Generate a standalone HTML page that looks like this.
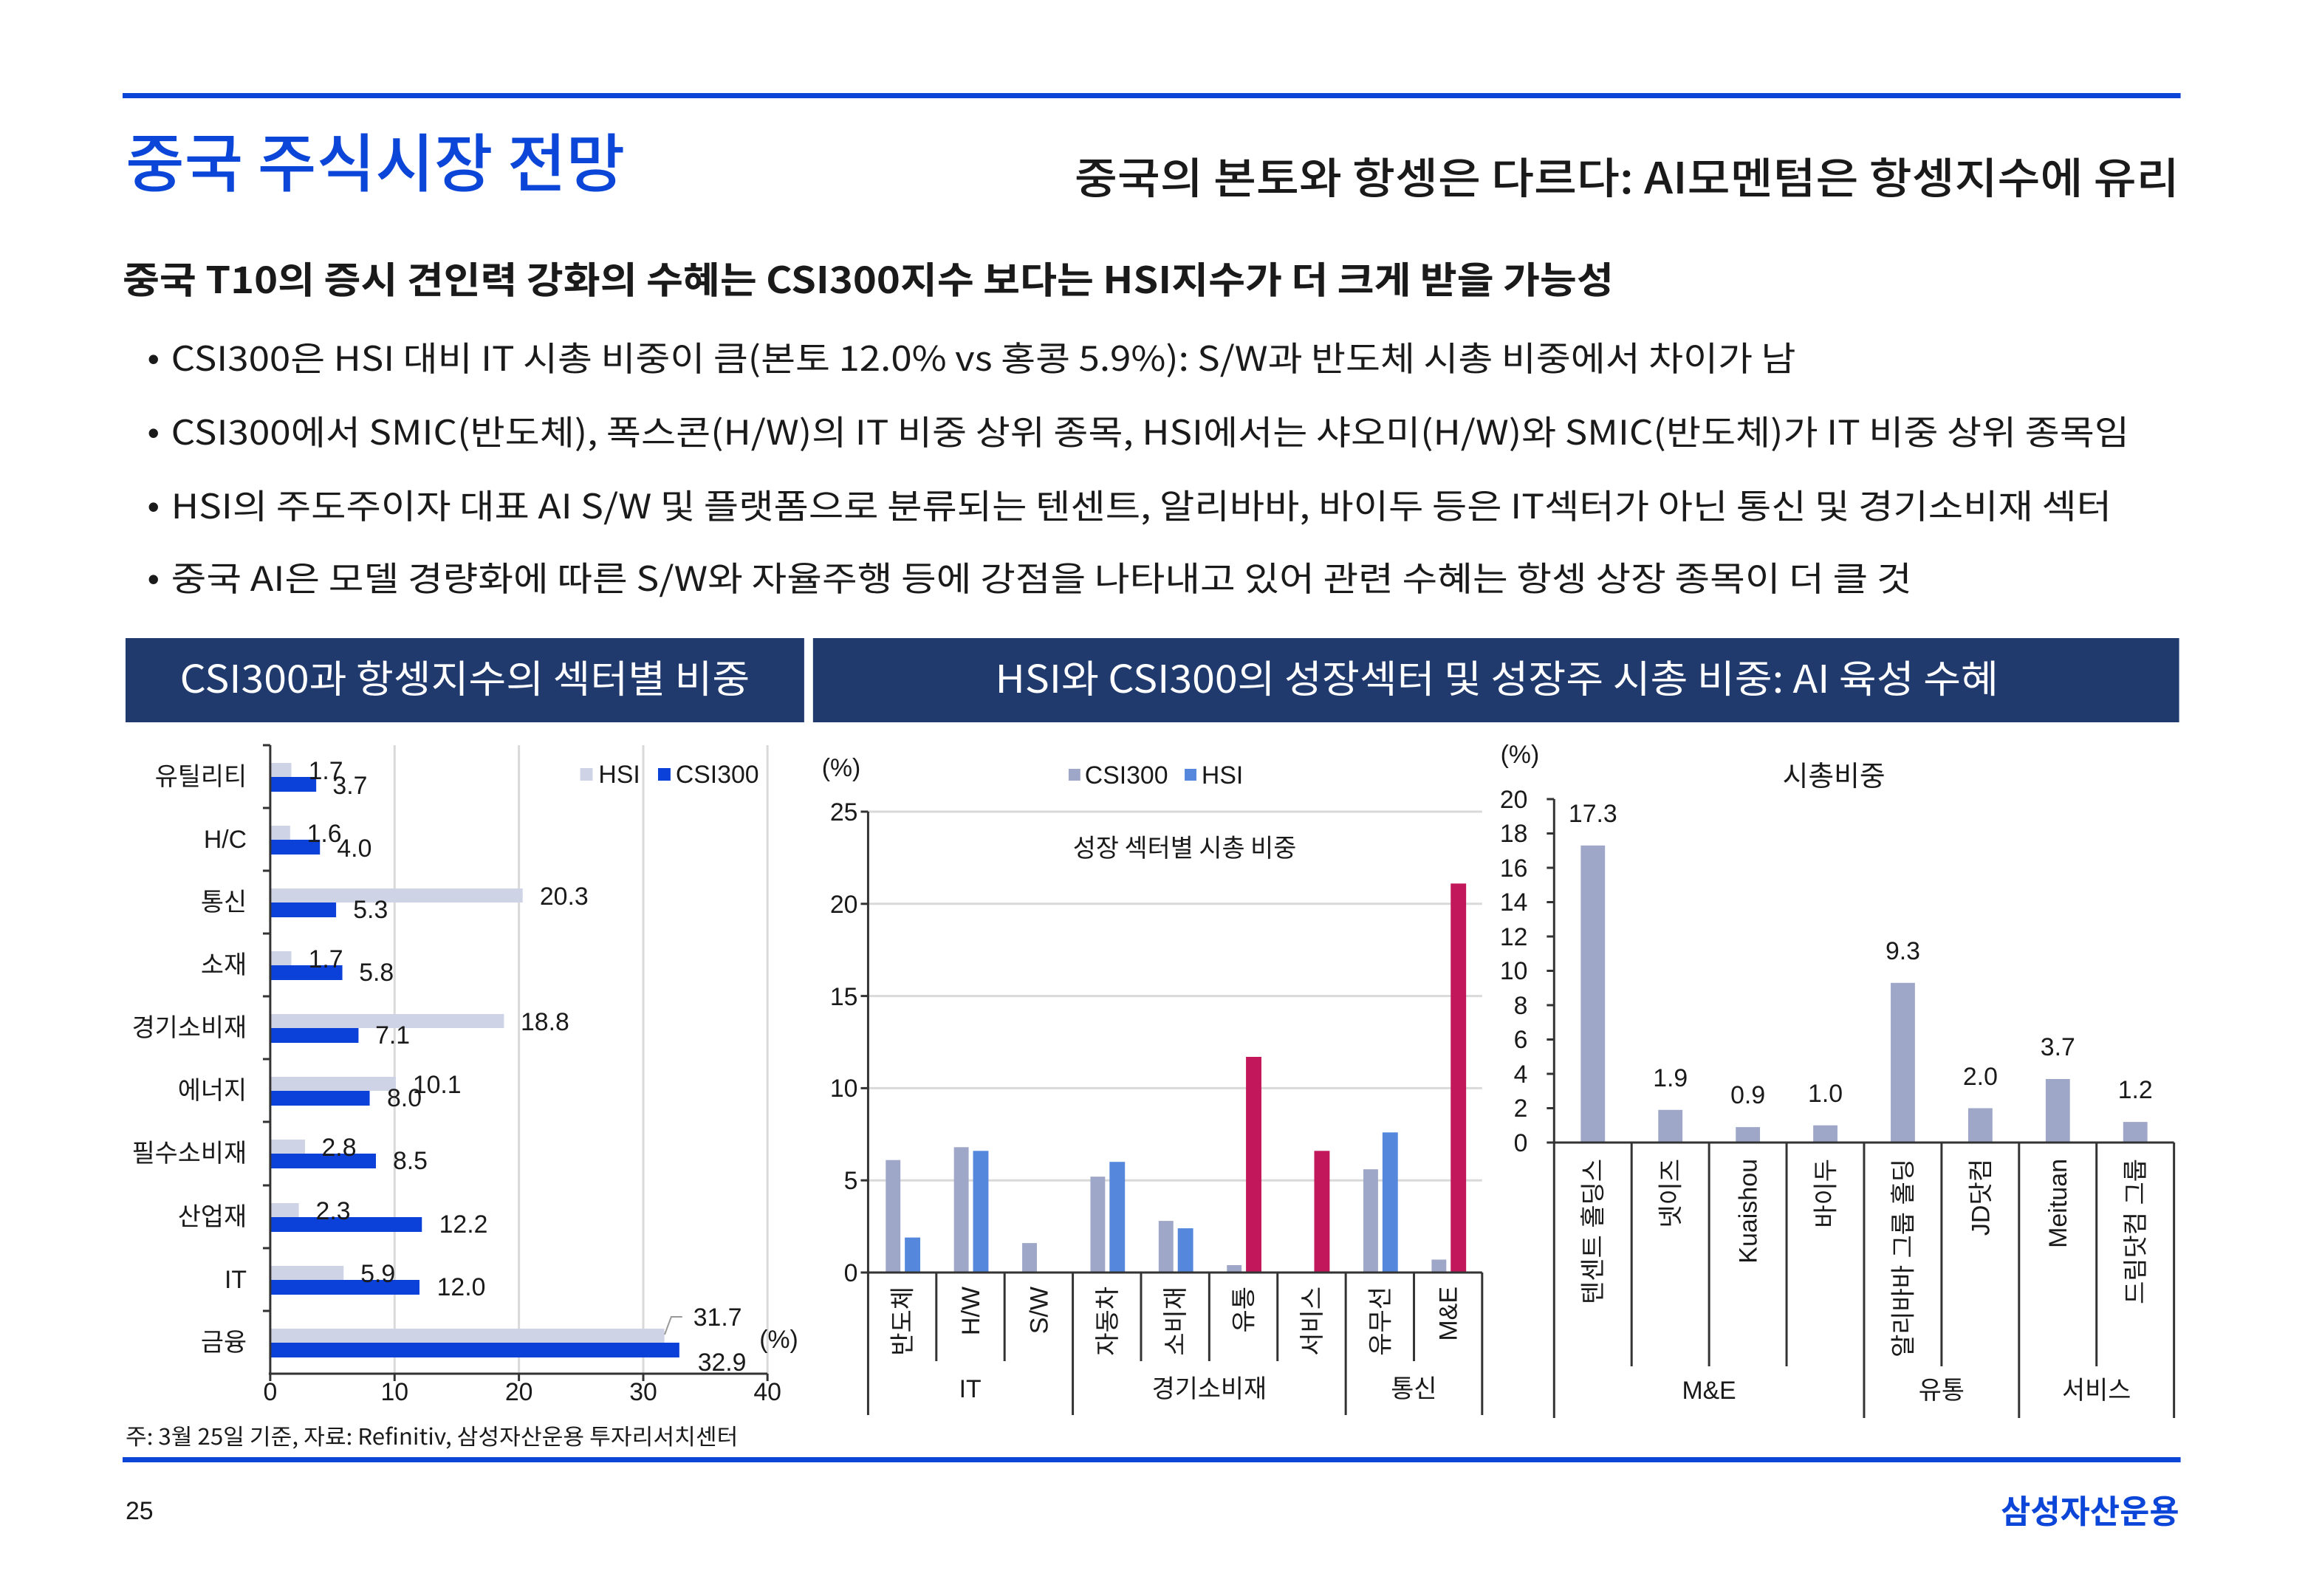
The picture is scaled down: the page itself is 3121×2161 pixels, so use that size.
<!DOCTYPE html>
<html><head><meta charset="utf-8"><style>
html,body{margin:0;padding:0;background:#fff}
svg{display:block}
text{font-family:"Liberation Sans","Noto Sans CJK KR",sans-serif;fill:#1a1a1a}
.k{font-family:"Noto Sans CJK KR","Liberation Sans",sans-serif}
</style></head><body>
<svg width="3121" height="2161" viewBox="0 0 3121 2161" xmlns="http://www.w3.org/2000/svg">
<rect width="3121" height="2161" fill="#fff"/>
<g transform="translate(166,0) scale(0.9945,1) translate(-166,0)">
<rect x="166" y="126" width="2802" height="7" fill="#0b46d8"/>
<text class="k" x="170" y="252" font-size="86" font-weight="500" style="fill:#0b46d8" textLength="680" lengthAdjust="spacingAndGlyphs">중국 주식시장 전망</text>
<text class="k" x="2966" y="262" font-size="58" font-weight="500" text-anchor="end" textLength="1504" lengthAdjust="spacingAndGlyphs">중국의 본토와 항셍은 다르다: AI모멘텀은 항셍지수에 유리</text>
<text class="k" x="166" y="397" font-size="50" font-weight="700" textLength="2030" lengthAdjust="spacingAndGlyphs">중국 T10의 증시 견인력 강화의 수혜는 CSI300지수 보다는 HSI지수가 더 크게 받을 가능성</text>
<g class="k" font-size="46">
<text x="200" y="502">•</text><text class="k" x="232" y="502" textLength="2212" lengthAdjust="spacingAndGlyphs">CSI300은 HSI 대비 IT 시총 비중이 큼(본토 12.0% vs 홍콩 5.9%): S/W과 반도체 시총 비중에서 차이가 남</text>
<text x="200" y="602">•</text><text class="k" x="232" y="602" textLength="2666" lengthAdjust="spacingAndGlyphs">CSI300에서 SMIC(반도체), 폭스콘(H/W)의 IT 비중 상위 종목, HSI에서는 샤오미(H/W)와 SMIC(반도체)가 IT 비중 상위 종목임</text>
<text x="200" y="702">•</text><text class="k" x="232" y="702" textLength="2642" lengthAdjust="spacingAndGlyphs">HSI의 주도주이자 대표 AI S/W 및 플랫폼으로 분류되는 텐센트, 알리바바, 바이두 등은 IT섹터가 아닌 통신 및 경기소비재 섹터</text>
<text x="200" y="800">•</text><text class="k" x="232" y="800" textLength="2370" lengthAdjust="spacingAndGlyphs">중국 AI은 모델 경량화에 따른 S/W와 자율주행 등에 강점을 나타내고 있어 관련 수혜는 항셍 상장 종목이 더 클 것</text>
</g>
<rect x="170" y="864" width="924" height="114" fill="#213a6e"/>
<rect x="1106" y="864" width="1860" height="114" fill="#213a6e"/>
<text class="k" x="244" y="938" font-size="52" style="fill:#fff" textLength="776" lengthAdjust="spacingAndGlyphs">CSI300과 항셍지수의 섹터별 비중</text>
<text class="k" x="1354" y="938" font-size="52" style="fill:#fff" textLength="1366" lengthAdjust="spacingAndGlyphs">HSI와 CSI300의 성장섹터 및 성장주 시총 비중: AI 육성 수혜</text>

<!-- LEFT CHART -->
<g stroke="#d9d9d9" stroke-width="3">
<line x1="536.3" y1="1009" x2="536.3" y2="1860"/><line x1="705.6" y1="1009" x2="705.6" y2="1860"/>
<line x1="874.9" y1="1009" x2="874.9" y2="1860"/><line x1="1044" y1="1009" x2="1044" y2="1860"/>
</g>
<g fill="#cfd3e6">
<rect x="367" y="1033" width="28.8" height="19"/><rect x="367" y="1118" width="27.1" height="19"/>
<rect x="367" y="1203" width="343.7" height="19"/><rect x="367" y="1288" width="28.8" height="19"/>
<rect x="367" y="1373" width="318.3" height="19"/><rect x="367" y="1458" width="171" height="19"/>
<rect x="367" y="1543" width="47.4" height="19"/><rect x="367" y="1629" width="38.9" height="19"/>
<rect x="367" y="1714" width="99.9" height="19"/><rect x="367" y="1799" width="536.7" height="19"/>
</g>
<g fill="#0b40d9">
<rect x="367" y="1052" width="62.6" height="20"/><rect x="367" y="1137" width="67.7" height="20"/>
<rect x="367" y="1222" width="89.7" height="20"/><rect x="367" y="1307" width="98.2" height="20"/>
<rect x="367" y="1392" width="120.2" height="20"/><rect x="367" y="1477" width="135.4" height="20"/>
<rect x="367" y="1562" width="143.9" height="20"/><rect x="367" y="1648" width="206.5" height="20"/>
<rect x="367" y="1733" width="203.2" height="20"/><rect x="367" y="1818" width="557" height="20"/>
</g>
<g stroke="#333" stroke-width="3">
<line x1="367" y1="1009" x2="367" y2="1862"/><line x1="365" y1="1860" x2="1044" y2="1860"/>
<line x1="357" y1="1009" x2="367" y2="1009"/><line x1="357" y1="1094" x2="367" y2="1094"/><line x1="357" y1="1179" x2="367" y2="1179"/>
<line x1="357" y1="1264" x2="367" y2="1264"/><line x1="357" y1="1349" x2="367" y2="1349"/><line x1="357" y1="1434" x2="367" y2="1434"/>
<line x1="357" y1="1519" x2="367" y2="1519"/><line x1="357" y1="1605" x2="367" y2="1605"/><line x1="357" y1="1690" x2="367" y2="1690"/>
<line x1="357" y1="1775" x2="367" y2="1775"/>
<line x1="367" y1="1860" x2="367" y2="1870"/><line x1="536.3" y1="1860" x2="536.3" y2="1870"/><line x1="705.6" y1="1860" x2="705.6" y2="1870"/>
<line x1="874.9" y1="1860" x2="874.9" y2="1870"/><line x1="1044" y1="1860" x2="1044" y2="1870"/>
</g>
<g class="k" font-size="34" text-anchor="end">
<text x="335" y="1063">유틸리티</text><text x="335" y="1148">H/C</text><text x="335" y="1233">통신</text>
<text x="335" y="1318">소재</text><text x="335" y="1403">경기소비재</text><text x="335" y="1488">에너지</text>
<text x="335" y="1573">필수소비재</text><text x="335" y="1659">산업재</text><text x="335" y="1744">IT</text><text x="335" y="1829">금융</text>
</g>
<g font-size="34">
<text x="419" y="1055">1.7</text><text x="452" y="1075">3.7</text>
<text x="417" y="1140">1.6</text><text x="458" y="1160">4.0</text>
<text x="734" y="1225">20.3</text><text x="480" y="1243">5.3</text>
<text x="419" y="1310">1.7</text><text x="488" y="1328">5.8</text>
<text x="708" y="1395">18.8</text><text x="510" y="1413">7.1</text>
<text x="561" y="1480">10.1</text><text x="526" y="1498">8.0</text>
<text x="437" y="1565">2.8</text><text x="534" y="1583">8.5</text>
<text x="429" y="1651">2.3</text><text x="597" y="1669">12.2</text>
<text x="490" y="1736">5.9</text><text x="594" y="1754">12.0</text>
<text x="943" y="1795">31.7</text><text x="949" y="1856">32.9</text><text x="1033" y="1825">(%)</text>
</g>
<polyline points="904,1807 913,1783 928,1783" fill="none" stroke="#999" stroke-width="2"/>
<g font-size="34" text-anchor="middle">
<text x="367" y="1896">0</text><text x="536.3" y="1896">10</text><text x="705.6" y="1896">20</text><text x="874.9" y="1896">30</text><text x="1044" y="1896">40</text>
</g>
<rect x="789" y="1040" width="17" height="17" fill="#cfd3e6"/><text x="814" y="1060" font-size="34">HSI</text>
<rect x="895" y="1040" width="17" height="17" fill="#0b40d9"/><text x="919" y="1060" font-size="34">CSI300</text>

<!-- MIDDLE CHART -->
<g stroke="#d9d9d9" stroke-width="3">
<line x1="1181" y1="1099" x2="2017" y2="1099"/><line x1="1181" y1="1223.8" x2="2017" y2="1223.8"/>
<line x1="1181" y1="1348.6" x2="2017" y2="1348.6"/><line x1="1181" y1="1473.4" x2="2017" y2="1473.4"/>
<line x1="1181" y1="1598.2" x2="2017" y2="1598.2"/>
</g>
<g fill="#9ea7c8">
<rect x="1205" y="1570.7" width="20" height="152.3"/><rect x="1297.9" y="1553.3" width="20" height="169.7"/>
<rect x="1390.8" y="1683.1" width="20" height="39.9"/><rect x="1483.7" y="1593.2" width="20" height="129.8"/>
<rect x="1576.6" y="1653.1" width="20" height="69.9"/><rect x="1669.5" y="1713" width="20" height="10"/>
<rect x="1855.3" y="1583.2" width="20" height="139.8"/><rect x="1948.2" y="1705.5" width="20" height="17.5"/>
</g>
<g fill="#5588dd">
<rect x="1231" y="1675.6" width="21" height="47.4"/><rect x="1323.9" y="1558.3" width="21" height="164.7"/>
<rect x="1509.7" y="1573.2" width="21" height="149.8"/><rect x="1602.6" y="1663.1" width="21" height="59.9"/>
<rect x="1881.3" y="1533.3" width="21" height="189.7"/>
</g>
<g fill="#c2185b">
<rect x="1695.5" y="1431" width="21" height="292"/><rect x="1788.4" y="1558.3" width="21" height="164.7"/>
<rect x="1974.2" y="1196.3" width="21" height="526.7"/>
</g>
<g stroke="#333" stroke-width="3">
<line x1="1181" y1="1099" x2="1181" y2="1916"/><line x1="1171" y1="1723" x2="2017" y2="1723"/>
<line x1="1171" y1="1099" x2="1181" y2="1099"/><line x1="1171" y1="1223.8" x2="1181" y2="1223.8"/><line x1="1171" y1="1348.6" x2="1181" y2="1348.6"/>
<line x1="1171" y1="1473.4" x2="1181" y2="1473.4"/><line x1="1171" y1="1598.2" x2="1181" y2="1598.2"/>
<line x1="1273.9" y1="1723" x2="1273.9" y2="1843"/><line x1="1366.8" y1="1723" x2="1366.8" y2="1843"/>
<line x1="1459.7" y1="1723" x2="1459.7" y2="1916"/><line x1="1552.6" y1="1723" x2="1552.6" y2="1843"/>
<line x1="1645.5" y1="1723" x2="1645.5" y2="1843"/><line x1="1738.4" y1="1723" x2="1738.4" y2="1843"/>
<line x1="1831.3" y1="1723" x2="1831.3" y2="1916"/><line x1="1924.2" y1="1723" x2="1924.2" y2="1843"/>
<line x1="2017" y1="1723" x2="2017" y2="1916"/>
</g>
<g font-size="34" text-anchor="end">
<text x="1167" y="1111">25</text><text x="1167" y="1236">20</text><text x="1167" y="1361">15</text>
<text x="1167" y="1485">10</text><text x="1167" y="1610">5</text><text x="1167" y="1735">0</text>
</g>
<text x="1118" y="1051" font-size="34">(%)</text>
<rect x="1454" y="1041" width="16" height="16" fill="#9ea7c8"/><text x="1476" y="1061" font-size="34">CSI300</text>
<rect x="1612" y="1041" width="16" height="16" fill="#5588dd"/><text x="1635" y="1061" font-size="34">HSI</text>
<text class="k" x="1612" y="1160" font-size="34" text-anchor="middle">성장 섹터별 시총 비중</text>
<g class="k" font-size="34" text-anchor="end">
<text transform="translate(1239.5,1742) rotate(-90)">반도체</text>
<text transform="translate(1332.4,1742) rotate(-90)">H/W</text>
<text transform="translate(1425.3,1742) rotate(-90)">S/W</text>
<text transform="translate(1518.2,1742) rotate(-90)">자동차</text>
<text transform="translate(1611.1,1742) rotate(-90)">소비재</text>
<text transform="translate(1704,1742) rotate(-90)">유통</text>
<text transform="translate(1796.9,1742) rotate(-90)">서비스</text>
<text transform="translate(1889.8,1742) rotate(-90)">유무선</text>
<text transform="translate(1982.7,1742) rotate(-90)">M&amp;E</text>
</g>
<g class="k" font-size="34" text-anchor="middle">
<text x="1320" y="1892">IT</text><text x="1645.5" y="1892">경기소비재</text><text x="1924" y="1892">통신</text>
</g>

<!-- RIGHT CHART -->
<g fill="#9ea7c8">
<rect x="2151.3" y="1144.8" width="33" height="402.2"/><rect x="2256.8" y="1502.8" width="33" height="44.2"/>
<rect x="2362.3" y="1526.1" width="33" height="20.9"/><rect x="2467.8" y="1523.7" width="33" height="23.3"/>
<rect x="2573.3" y="1330.8" width="33" height="216.2"/><rect x="2678.8" y="1500.5" width="33" height="46.5"/>
<rect x="2784.3" y="1461" width="33" height="86"/><rect x="2889.8" y="1519.1" width="33" height="27.9"/>
</g>
<g stroke="#333" stroke-width="3">
<line x1="2115" y1="1082" x2="2115" y2="1920"/><line x1="2105" y1="1547" x2="2959" y2="1547"/>
<line x1="2105" y1="1082" x2="2115" y2="1082"/><line x1="2105" y1="1128.5" x2="2115" y2="1128.5"/><line x1="2105" y1="1175" x2="2115" y2="1175"/>
<line x1="2105" y1="1221.5" x2="2115" y2="1221.5"/><line x1="2105" y1="1268" x2="2115" y2="1268"/><line x1="2105" y1="1314.5" x2="2115" y2="1314.5"/>
<line x1="2105" y1="1361" x2="2115" y2="1361"/><line x1="2105" y1="1407.5" x2="2115" y2="1407.5"/><line x1="2105" y1="1454" x2="2115" y2="1454"/>
<line x1="2105" y1="1500.5" x2="2115" y2="1500.5"/>
<line x1="2220.5" y1="1547" x2="2220.5" y2="1850"/><line x1="2326" y1="1547" x2="2326" y2="1850"/>
<line x1="2431.5" y1="1547" x2="2431.5" y2="1850"/><line x1="2537" y1="1547" x2="2537" y2="1920"/>
<line x1="2642.5" y1="1547" x2="2642.5" y2="1850"/><line x1="2748" y1="1547" x2="2748" y2="1920"/>
<line x1="2853.5" y1="1547" x2="2853.5" y2="1850"/><line x1="2959" y1="1547" x2="2959" y2="1920"/>
</g>
<g font-size="34" text-anchor="end">
<text x="2079" y="1094">20</text><text x="2079" y="1140">18</text><text x="2079" y="1187">16</text><text x="2079" y="1233">14</text>
<text x="2079" y="1280">12</text><text x="2079" y="1326">10</text><text x="2079" y="1373">8</text><text x="2079" y="1419">6</text>
<text x="2079" y="1466">4</text><text x="2079" y="1512">2</text><text x="2079" y="1559">0</text>
</g>
<text x="2042" y="1033" font-size="34">(%)</text>
<text class="k" x="2496" y="1064" font-size="38" text-anchor="middle">시총비중</text>
<g font-size="34" text-anchor="middle">
<text x="2167.8" y="1113">17.3</text><text x="2273.3" y="1471">1.9</text><text x="2378.8" y="1494">0.9</text>
<text x="2484.3" y="1492">1.0</text><text x="2589.8" y="1299">9.3</text><text x="2695.3" y="1469">2.0</text>
<text x="2800.8" y="1429">3.7</text><text x="2906.3" y="1487">1.2</text>
</g>
<g class="k" font-size="34" text-anchor="end">
<text transform="translate(2179.8,1569) rotate(-90)">텐센트 홀딩스</text>
<text transform="translate(2285.3,1569) rotate(-90)">넷이즈</text>
<text transform="translate(2390.8,1569) rotate(-90)">Kuaishou</text>
<text transform="translate(2496.3,1569) rotate(-90)">바이두</text>
<text transform="translate(2601.8,1569) rotate(-90)">알리바바 그룹 홀딩</text>
<text transform="translate(2707.3,1569) rotate(-90)">JD닷컴</text>
<text transform="translate(2812.8,1569) rotate(-90)">Meituan</text>
<text transform="translate(2918.3,1569) rotate(-90)">드림닷컴 그룹</text>
</g>
<g class="k" font-size="34" text-anchor="middle">
<text x="2326" y="1894">M&amp;E</text><text x="2642.5" y="1894">유통</text><text x="2853.5" y="1894">서비스</text>
</g>

<text class="k" x="170" y="1956" font-size="30" textLength="834" lengthAdjust="spacingAndGlyphs">주: 3월 25일 기준, 자료: Refinitiv, 삼성자산운용 투자리서치센터</text>
<rect x="166" y="1973" width="2802" height="7" fill="#0b46d8"/>
<text x="170" y="2057" font-size="34">25</text>
<text class="k" x="2966" y="2062" font-size="44" font-weight="700" text-anchor="end" style="fill:#0b46d8">삼성자산운용</text>
</g>
</svg>
</body></html>
